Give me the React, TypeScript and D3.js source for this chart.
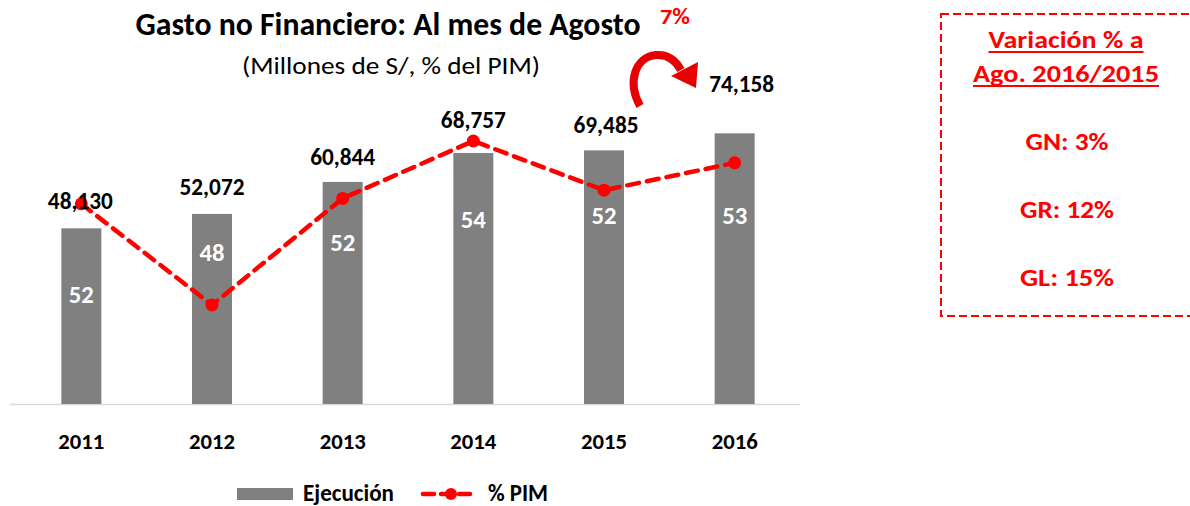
import React from "react";
import * as d3 from "d3";

const years = ["2011", "2012", "2013", "2014", "2015", "2016"];
const ejecucion = [48130, 52072, 60844, 68757, 69485, 74158];
const pimPct = [51.7, 48.0, 51.9, 54.0, 52.2, 53.2];
const pimLabels = ["52", "48", "52", "54", "52", "53"];
const boxTitle = ["Variación % a", "Ago. 2016/2015"];
const boxLines = ["GN: 3%", "GR: 12%", "GL: 15%"];

// layout tweaks for manually placed labels (pixels)
const valueLabelDy = [19, 19, 17, 25, 17, 41];
const valueLabelDx = [-1, 0, 0, 0, 2, 7];
const innerLabelDy = [75, 47, 69, 75, 74, 91];

const W = 1190;
const H = 506;
const FONT = "Carlito, Calibri, Lato, 'Open Sans', sans-serif";

export default function App() {
  const x = d3.scalePoint<string>().domain(years).range([16, 800]).padding(0.5);
  const y = d3.scaleLinear().domain([0, 80000]).range([404, 112]);
  const y2 = d3.scaleLinear().domain([48, 54]).range([305, 141]);
  const barW = 40;
  const fmt = d3.format(",");

  const line = d3
    .line<number>()
    .x((_, i) => x(years[i]) as number)
    .y((d) => y2(d));

  const boxCx = 1066;

  return (
    <svg
      width={W}
      height={H}
      style={{ position: "absolute", left: 0, top: 0, background: "#fff" }}
      fontFamily={FONT}
    >
      {/* Title */}
      <text x={388} y={35} textAnchor="middle" fontSize={33} fontWeight="bold" fill="#000"
        textLength={505} lengthAdjust="spacingAndGlyphs">
        Gasto no Financiero: Al mes de Agosto
      </text>
      <text x={675} y={24} textAnchor="middle" fontSize={22} fontWeight="bold" fill="#ff0000"
        textLength={30} lengthAdjust="spacingAndGlyphs">
        7%
      </text>
      <text x={391} y={74} textAnchor="middle" fontSize={25} fill="#000"
        textLength={298} lengthAdjust="spacingAndGlyphs">
        (Millones de S/, % del PIM)
      </text>

      {/* Arrow */}
      <path d="M640,106 C627,82 635,57 656,55 C668,54 676,61 681,70" fill="none" stroke="#e60000" strokeWidth={8} />
      <polygon points="671,76 698,62 696,88" fill="#e60000" />

      {/* Axis baseline */}
      <line x1={10} x2={800} y1={404.5} y2={404.5} stroke="#d9d9d9" strokeWidth={1.5} />

      {/* Bars */}
      {ejecucion.map((v, i) => (
        <rect key={"b" + i} x={(x(years[i]) as number) - barW / 2} y={y(v)} width={barW}
          height={y(0) - y(v)} fill="#808080" />
      ))}

      {/* Inner labels (% PIM) */}
      {ejecucion.map((v, i) => (
        <text key={"il" + i} x={x(years[i]) as number} y={y(v) + innerLabelDy[i]} textAnchor="middle"
          fontSize={25} fontWeight="bold" fill="#fff" textLength={25} lengthAdjust="spacingAndGlyphs">
          {pimLabels[i]}
        </text>
      ))}

      {/* Line */}
      <path d={line(pimPct) || ""} fill="none" stroke="#ff0000" strokeWidth={4.5}
        strokeDasharray="12,8" strokeLinecap="round" />
      {pimPct.map((v, i) => (
        <circle key={"c" + i} cx={x(years[i]) as number} cy={y2(v)} r={6.5} fill="#ff0000" />
      ))}

      {/* Value labels */}
      {ejecucion.map((v, i) => (
        <text key={"vl" + i} x={(x(years[i]) as number) + valueLabelDx[i]} y={y(v) - valueLabelDy[i]}
          textAnchor="middle" fontSize={25} fontWeight="bold" fill="#000"
          textLength={65} lengthAdjust="spacingAndGlyphs">
          {fmt(v)}
        </text>
      ))}

      {/* Year labels */}
      {years.map((yr) => (
        <text key={"y" + yr} x={x(yr) as number} y={449} textAnchor="middle" fontSize={23}
          fontWeight="bold" fill="#000" textLength={46} lengthAdjust="spacingAndGlyphs">
          {yr}
        </text>
      ))}

      {/* Legend */}
      <rect x={237} y={488} width={56} height={12} fill="#808080" />
      <text x={303} y={501} fontSize={24} fontWeight="bold" fill="#000" textLength={91}
        lengthAdjust="spacingAndGlyphs">
        Ejecución
      </text>
      <line x1={423} x2={477} y1={494} y2={494} stroke="#ff0000" strokeWidth={4.5}
        strokeDasharray="11,7" strokeLinecap="round" />
      <circle cx={451} cy={494} r={6} fill="#ff0000" />
      <text x={488} y={501} fontSize={24} fontWeight="bold" fill="#000" textLength={60}
        lengthAdjust="spacingAndGlyphs">
        % PIM
      </text>

      {/* Right box */}
      <rect x={941} y={14} width={270} height={302} fill="none" stroke="#ff0000" strokeWidth={2}
        strokeDasharray="8,4" />
      {boxTitle.map((t, i) => {
        const w = i === 0 ? 155 : 186;
        const by = i === 0 ? 48 : 82;
        return (
          <g key={"bt" + i}>
            <text x={boxCx} y={by} textAnchor="middle" fontSize={25} fontWeight="bold" fill="#ff0000"
              textLength={w} lengthAdjust="spacingAndGlyphs">
              {t}
            </text>
            <line x1={boxCx - w / 2} x2={boxCx + w / 2} y1={by + 4} y2={by + 4} stroke="#ff0000" strokeWidth={2} />
          </g>
        );
      })}
      {boxLines.map((t, i) => (
        <text key={"bl" + i} x={boxCx + 1} y={150 + i * 68} textAnchor="middle" fontSize={25}
          fontWeight="bold" fill="#ff0000" textLength={i === 0 ? 83 : 94} lengthAdjust="spacingAndGlyphs">
          {t}
        </text>
      ))}
    </svg>
  );
}
